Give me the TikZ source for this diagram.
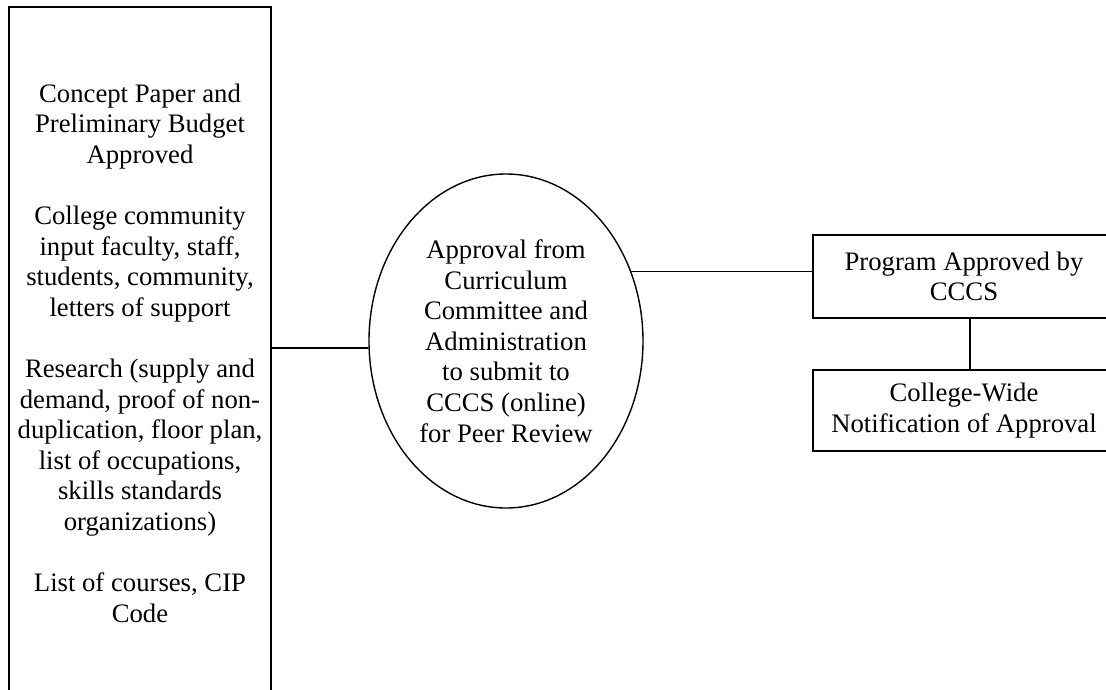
\documentclass[tikz,border=0pt]{standalone}
\usepackage{fontspec}
\setmainfont{Liberation Serif}
\usetikzlibrary{shapes.geometric,calc}
\begin{document}
\begin{tikzpicture}[x=1pt,y=-1pt,
  every node/.style={font=\fontsize{26.7}{30.6}\selectfont, align=center, inner sep=0pt},
  framebox/.style={draw, line width=1.6pt, rectangle},
  oval/.style={draw, line width=1.4pt, ellipse},
  link/.style={line width=1.6pt}]
\useasboundingbox (0,0) rectangle (1106,689);
\clip (0,0) rectangle (1106,689);

% requirements column (runs off the bottom edge)
\node[framebox, minimum width=262pt, minimum height=692pt] (req) at (140,353)
  {Concept Paper and\\ Preliminary Budget\\ Approved\\[30.6pt]
   College community\\ input faculty, staff,\\ students, community,\\ letters of support\\[30.6pt]
   Research (supply and\\ demand, proof of non-\\ duplication, floor plan,\\ list of occupations,\\ skills standards\\ organizations)\\[30.6pt]
   List of courses, CIP\\ Code};

% approval step
\node[oval, minimum width=274pt, minimum height=334pt] (ell) at (506,341)
  {Approval from\\ Curriculum\\ Committee and\\ Administration\\ to submit to\\ CCCS (online)\\ for Peer Review};

% outcome boxes (run off the right edge)
\node[framebox, minimum width=302pt, minimum height=83pt] (prog) at (964,276.5)
  {Program Approved by\\ CCCS};
\node[framebox, minimum width=302pt, minimum height=81pt] (notice) at (964,410.5)
  {College-Wide\\ Notification of Approval};

% connectors
\draw[link] (ell.183.3) -- (ell.183.3 -| req.east);
\draw[link] (ell.29.4) -- (ell.29.4 -| prog.west);
\coordinate (stem) at (970,0);
\draw[link] (prog.south -| stem) -- (notice.north -| stem);
\end{tikzpicture}
\end{document}
